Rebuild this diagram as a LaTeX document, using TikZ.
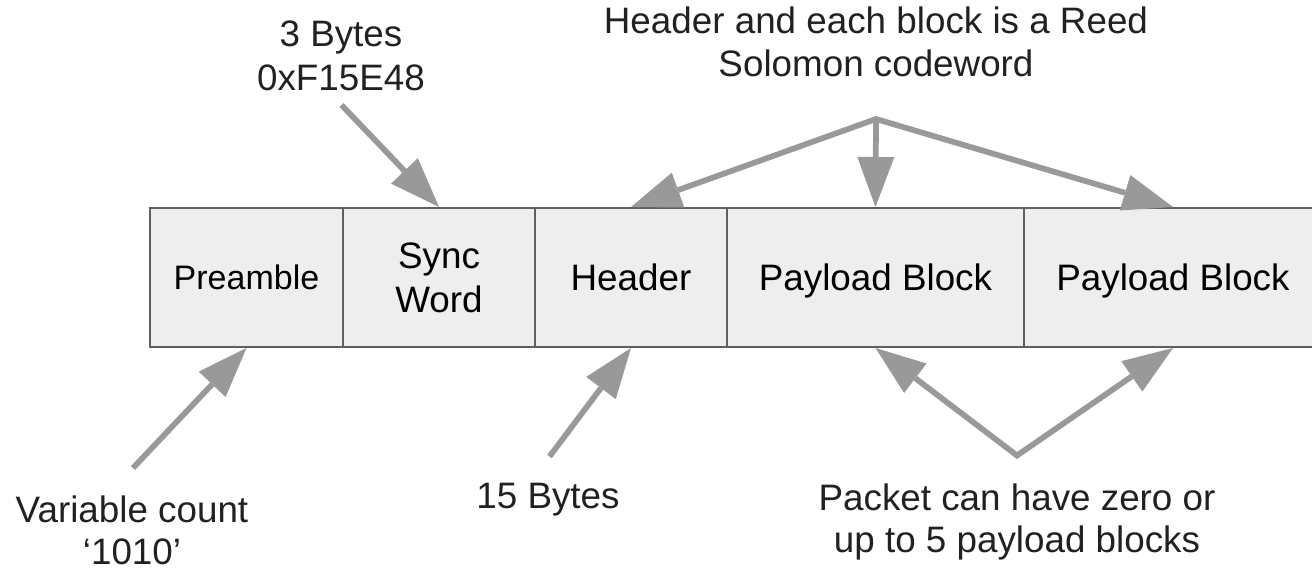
\documentclass[tikz,border=0pt]{standalone}
\usepackage{fontspec}
\setmainfont{Liberation Sans}
\usetikzlibrary{arrows.meta}
\definecolor{arrowgray}{HTML}{999999}
\definecolor{boxfill}{HTML}{EEEEEE}
\definecolor{boxline}{HTML}{5F5F5F}
\definecolor{annot}{HTML}{212121}
\begin{document}
\begin{tikzpicture}[x=0.75pt,y=-0.75pt,
  field/.style={draw=boxline, fill=boxfill, line width=1.5pt, minimum height=104.25pt,
    inner sep=0pt, align=center, text=black, font=\fontsize{27.6}{33}\selectfont},
  oneline/.style={text height=19.8pt, text depth=0pt},
  lbl/.style={inner sep=0pt, align=center, text=annot},
  arrowtip/.tip={Triangle[length=37.5pt, width=27.75pt, line width=0pt]},
  arr/.style={draw=arrowgray, line width=4.3pt, line join=miter, -arrowtip},
  arrboth/.style={draw=arrowgray, line width=4.3pt, line join=miter, arrowtip-arrowtip}
]
\useasboundingbox (0,0) rectangle (1312,571);
\clip (0,0) rectangle (1312,571);

% packet fields
\node[field, oneline, minimum width=144.75pt, font=\fontsize{25.5}{30}\selectfont, text height=18.3pt] (pre) at (246.5,277.5) {Preamble};
\node[field, minimum width=144pt] (sync) at (439,277.5) {Sync\\Word};
\node[field, oneline, minimum width=144pt] (hdr) at (631,277.5) {Header};
\node[field, oneline, minimum width=222.75pt] (pay1) at (875.5,277.5) {Payload Block};
\node[field, oneline, minimum width=223.5pt] (pay2) at (1173,277.5) {Payload Block};

% annotations
\node[lbl, font=\fontsize{27.6}{33}\selectfont] (sb) at (341,55.5) {3 Bytes\\0xF15E48};
\node[lbl, font=\fontsize{27.6}{32.25}\selectfont] (rs) at (876,42) {Header and each block is a Reed\\Solomon codeword};
\node[lbl, font=\fontsize{27.6}{31.7}\selectfont] (vc) at (132,530.4) {Variable count\\‘1010’};
\node[lbl, font=\fontsize{27.6}{33}\selectfont, anchor=base] (fb) at (548,508.3) {15 Bytes};
\node[lbl, font=\fontsize{27.6}{31.5}\selectfont] (pk) at (1017,522.4) {Packet can have zero or\\up to 5 payload blocks};

% connector ends
\coordinate (sbT) at (341.5,105);
\coordinate (vcT) at (133,468);
\coordinate (fbT) at (549.5,456.5);
\coordinate (fork) at (876,119);
\coordinate (vtx) at (1017,455.5);

% connectors
\draw[arr] (sbT) -- (sync.north);
\draw[arr] (vcT) -- (pre.south);
\draw[arr] (fbT) -- (hdr.south);
\draw[arrboth] (hdr.north) -- (fork) -- (pay2.north);
\draw[arr] (fork) -- (pay1.north);
\draw[arrboth] (pay1.south) -- (vtx) -- (pay2.south);
\end{tikzpicture}
\end{document}
